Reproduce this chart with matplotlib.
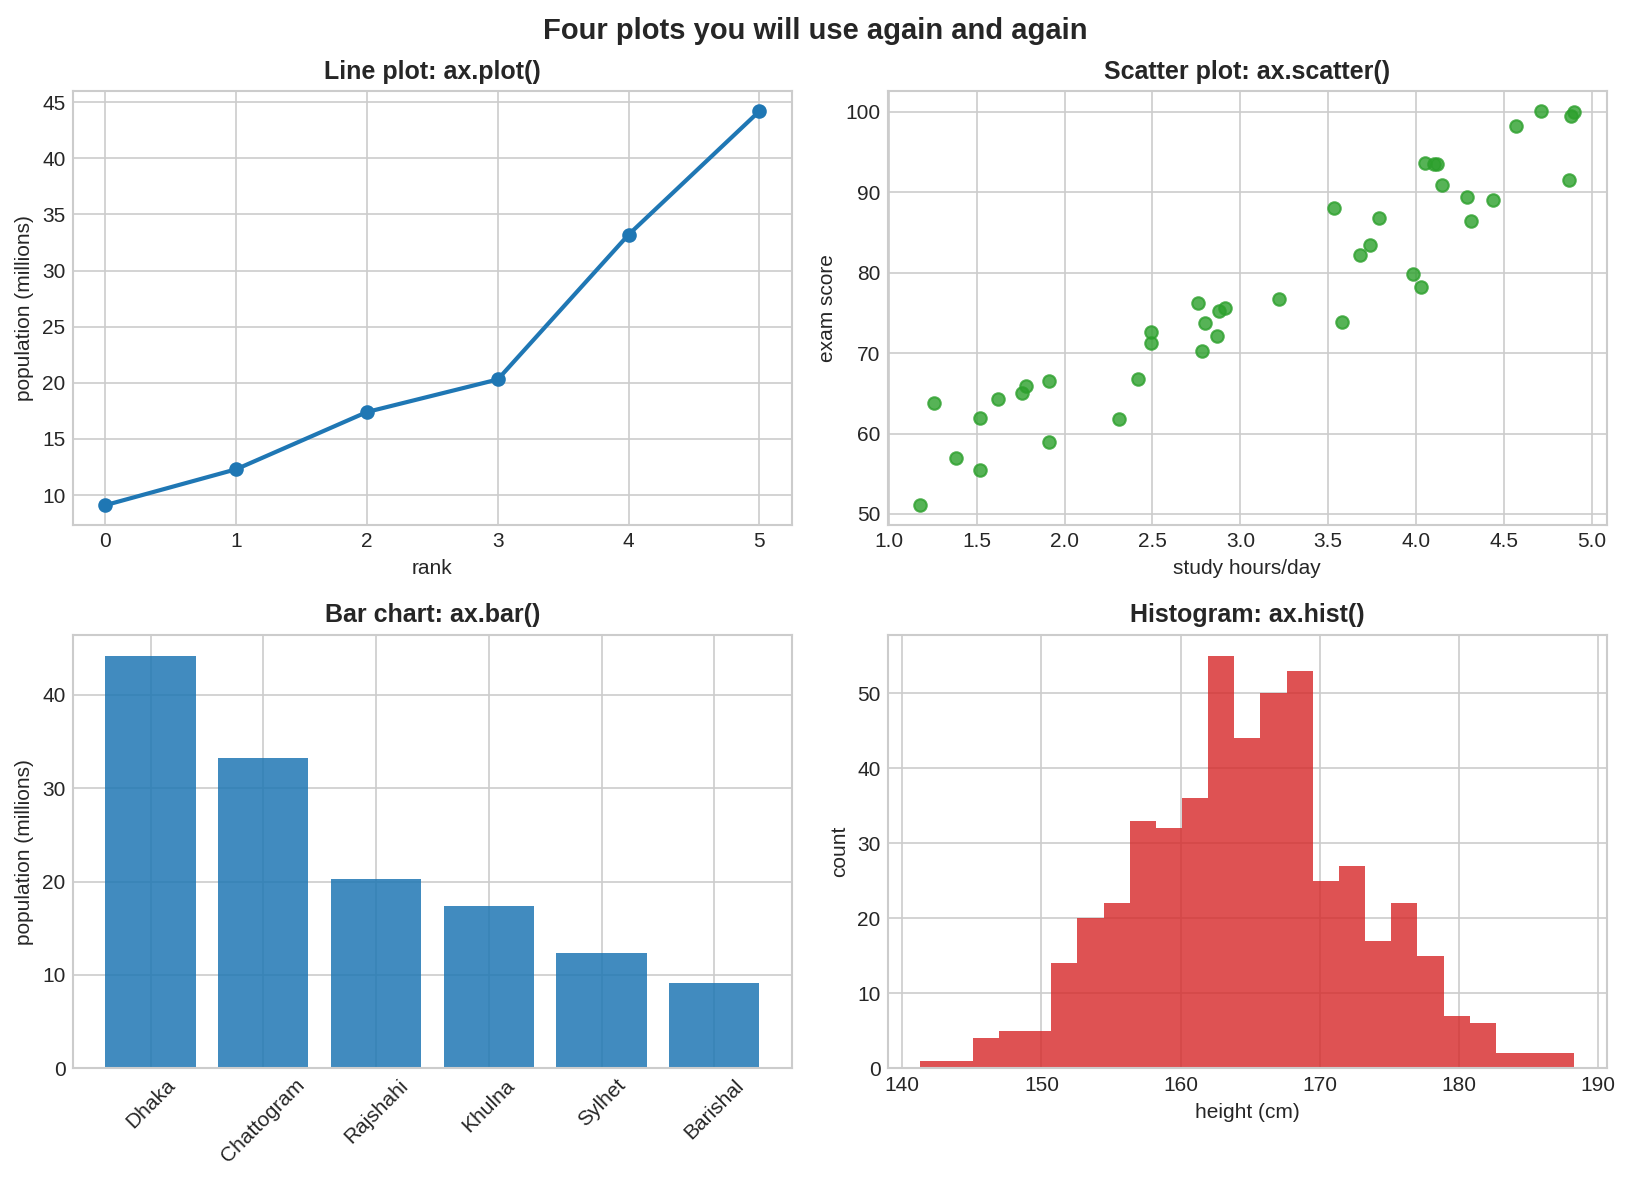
import numpy as np
import matplotlib
matplotlib.use("Agg")
import matplotlib.pyplot as plt

# === Data ===
cities = ["Dhaka", "Chattogram", "Rajshahi", "Khulna", "Sylhet", "Barishal"]
population = [44.2, 33.2, 20.3, 17.4, 12.3, 9.1]

rank = [0, 1, 2, 3, 4, 5]
pop_sorted = [9.1, 12.3, 17.4, 20.3, 33.2, 44.2]

study_hours = [1.18, 1.26, 1.38, 1.52, 1.52, 1.62, 1.76, 1.78, 1.91, 1.91,
               2.31, 2.42, 2.49, 2.49, 2.76, 2.80, 2.78, 2.87, 2.88, 2.91,
               3.22, 3.53, 3.58, 3.68, 3.74, 3.79, 3.98, 4.03, 4.05, 4.10,
               4.12, 4.15, 4.29, 4.31, 4.44, 4.57, 4.71, 4.88, 4.90, 4.87]
exam_score = [51.1, 63.8, 57.0, 62.0, 55.5, 64.3, 65.0, 65.9, 66.5, 58.9,
              61.8, 66.8, 72.6, 71.3, 76.2, 73.8, 70.3, 72.1, 75.2, 75.6,
              76.8, 88.0, 73.9, 82.2, 83.5, 86.8, 79.9, 78.2, 93.6, 93.5,
              93.5, 90.9, 89.4, 86.4, 89.0, 98.3, 100.1, 99.5, 100.0, 91.5]

hist_range = (141.3, 188.3)
hist_counts = [1, 1, 4, 5, 5, 14, 20, 22, 33, 32, 36, 55, 44, 50, 53,
               25, 27, 17, 22, 15, 7, 6, 2, 2, 2]

# === Style ===
plt.style.use("seaborn-v0_8-whitegrid")
plt.rcParams["font.family"] = ["Liberation Sans", "DejaVu Sans"]
plt.rcParams["axes.titleweight"] = "bold"
plt.rcParams["axes.titlesize"] = 12
plt.rcParams["axes.labelsize"] = 10
plt.rcParams["xtick.labelsize"] = 10
plt.rcParams["ytick.labelsize"] = 10

fig, axes = plt.subplots(2, 2, figsize=(1631 / 150, 1182 / 150), dpi=150)
fig.subplots_adjust(left=0.0446, right=0.9853, top=0.9226, bottom=0.0962,
                    wspace=0.133, hspace=0.254)
fig.suptitle("Four plots you will use again and again", fontsize=14,
             fontweight="bold", y=0.986)

# Line plot
ax = axes[0, 0]
ax.plot(rank, pop_sorted, marker="o", linewidth=2, color="tab:blue")
ax.set_title("Line plot: ax.plot()")
ax.set_xlabel("rank")
ax.set_ylabel("population (millions)")

# Scatter plot
ax = axes[0, 1]
ax.scatter(study_hours, exam_score, s=36, color="tab:green", alpha=0.8)
ax.set_title("Scatter plot: ax.scatter()")
ax.set_xlabel("study hours/day")
ax.set_ylabel("exam score")

# Bar chart
ax = axes[1, 0]
ax.bar(cities, population, color="tab:blue", alpha=0.85)
ax.set_title("Bar chart: ax.bar()")
ax.set_ylabel("population (millions)")
ax.tick_params(axis="x", labelrotation=45)

# Histogram
ax = axes[1, 1]
edges = np.linspace(hist_range[0], hist_range[1], len(hist_counts) + 1)
ax.hist(edges[:-1], bins=edges, weights=hist_counts, color="tab:red", alpha=0.8)
ax.set_title("Histogram: ax.hist()")
ax.set_xlabel("height (cm)")
ax.set_ylabel("count")

fig.savefig("out.png", dpi=150)
